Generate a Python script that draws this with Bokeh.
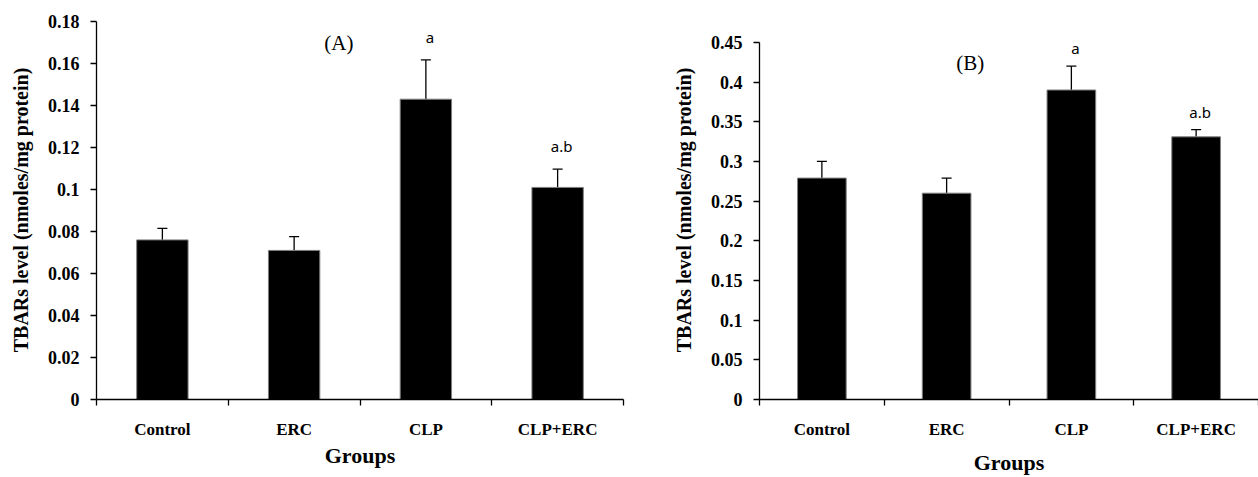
from bokeh.plotting import figure
from bokeh.models import (Range1d, FixedTicker, CustomJSTickFormatter, Whisker,
                          ColumnDataSource, Label, TeeHead)
from bokeh.layouts import row
from bokeh.core.properties import value
from bokeh.embed import file_html
from bokeh.resources import INLINE

categories = ["Control", "ERC", "CLP", "CLP+ERC"]

tbars_A = [0.076, 0.071, 0.143, 0.101]
err_A = [0.0055, 0.0066, 0.0187, 0.0087]
sig_A = ["", "", "a", "a.b"]
yticks_A = [0, 0.02, 0.04, 0.06, 0.08, 0.10, 0.12, 0.14, 0.16, 0.18]

tbars_B = [0.279, 0.26, 0.39, 0.331]
err_B = [0.021, 0.019, 0.03, 0.009]
sig_B = ["", "", "a", "a.b"]
yticks_B = [0, 0.05, 0.10, 0.15, 0.20, 0.25, 0.30, 0.35, 0.40, 0.45]

SERIF = "Liberation Serif"
FRAME_TOP = 20
FRAME_BOTTOM = 76
HEIGHT = 477


def make_panel(vals, errs, sig, yticks, panel_text, panel_pos, width,
               bl, br, axis_top_px, sig_gap, xl_standoff, groups_standoff):
    frame_h = HEIGHT - FRAME_TOP - FRAME_BOTTOM
    ymax = yticks[-1]
    # range extends above the top tick so that the top tick sits axis_top_px below the frame top
    yend = ymax * frame_h / (frame_h - axis_top_px)
    p = figure(width=width, height=HEIGHT, x_range=Range1d(0, len(categories)),
               y_range=Range1d(0, yend), output_backend="svg",
               toolbar_location=None, min_border_left=bl, min_border_right=br,
               min_border_top=FRAME_TOP, min_border_bottom=FRAME_BOTTOM)
    p.outline_line_color = None
    p.xgrid.grid_line_color = None
    p.ygrid.grid_line_color = None
    p.background_fill_color = "white"
    p.border_fill_color = "white"

    xs = [i + 0.5 for i in range(len(categories))]
    src = ColumnDataSource(dict(x=xs, top=vals,
                                upper=[v + e for v, e in zip(vals, errs)],
                                sig=sig))
    p.vbar(x="x", top="top", width=0.39, bottom=0, source=src,
           fill_color="black", line_color="#808080", line_width=1)
    wh = Whisker(base="x", lower="top", upper="upper", source=src,
                 dimension="height", line_color="black", line_width=1.3,
                 upper_head=TeeHead(size=10, line_color="black", line_width=1.3),
                 lower_head=None)
    p.add_layout(wh)
    p.text(x="x", y="upper", text="sig", source=src, text_align="center",
           text_baseline="bottom", y_offset=-sig_gap, x_offset=4,
           text_font=value("Noto Sans"), text_font_size="15px",
           text_color="black")

    p.add_layout(Label(x=panel_pos[0], y=panel_pos[1], text=panel_text,
                       text_font=SERIF, text_font_size="21px",
                       text_align="center", text_baseline="middle",
                       text_color="black"))

    xa = p.xaxis[0]
    xa.ticker = FixedTicker(ticks=xs, minor_ticks=list(range(len(categories) + 1)))
    xa.formatter = CustomJSTickFormatter(args=dict(cats=categories),
                                         code="return cats[Math.floor(tick)];")
    xa.major_tick_out = 0
    xa.major_tick_in = 0
    xa.minor_tick_out = 6
    xa.minor_tick_in = 0
    xa.minor_tick_line_color = "black"
    xa.minor_tick_line_width = 1.3
    xa.axis_line_color = "black"
    xa.axis_line_width = 1.3
    xa.major_label_text_font = SERIF
    xa.major_label_text_font_style = "bold"
    xa.major_label_text_font_size = "17px"
    xa.major_label_text_color = "black"
    xa.major_label_standoff = xl_standoff
    xa.axis_label = "Groups"
    xa.axis_label_text_font = SERIF
    xa.axis_label_text_font_style = "bold"
    xa.axis_label_text_font_size = "22px"
    xa.axis_label_text_color = "black"
    xa.axis_label_standoff = groups_standoff

    ya = p.yaxis[0]
    ya.ticker = FixedTicker(ticks=yticks)
    ya.bounds = (0, ymax)
    ya.formatter = CustomJSTickFormatter(code="return String(parseFloat(tick.toFixed(3)));")
    ya.major_tick_out = 6
    ya.major_tick_in = 0
    ya.minor_tick_out = 0
    ya.minor_tick_in = 0
    ya.major_tick_line_color = "black"
    ya.major_tick_line_width = 1.3
    ya.axis_line_color = "black"
    ya.axis_line_width = 1.3
    ya.major_label_text_font = SERIF
    ya.major_label_text_font_style = "bold"
    ya.major_label_text_font_size = "18px"
    ya.major_label_text_color = "black"
    ya.major_label_standoff = 11
    ya.axis_label = "TBARs level (nmoles/mg protein)"
    ya.axis_label_text_font = SERIF
    ya.axis_label_text_font_style = "bold"
    ya.axis_label_text_font_size = "20px"
    ya.axis_label_text_color = "black"
    ya.axis_label_standoff = 13
    return p


pA = make_panel(tbars_A, err_A, sig_A, yticks_A, "(A)", (1.84, 0.1696),
                width=639, bl=96, br=16, axis_top_px=1, sig_gap=13,
                xl_standoff=14, groups_standoff=1)
pB = make_panel(tbars_B, err_B, sig_B, yticks_B, "(B)", (1.69, 0.4246),
                width=619, bl=120, br=0, axis_top_px=22, sig_gap=8,
                xl_standoff=14, groups_standoff=8)

layout = row(pA, pB)
open("out.html", "w").write(file_html(layout, INLINE))
